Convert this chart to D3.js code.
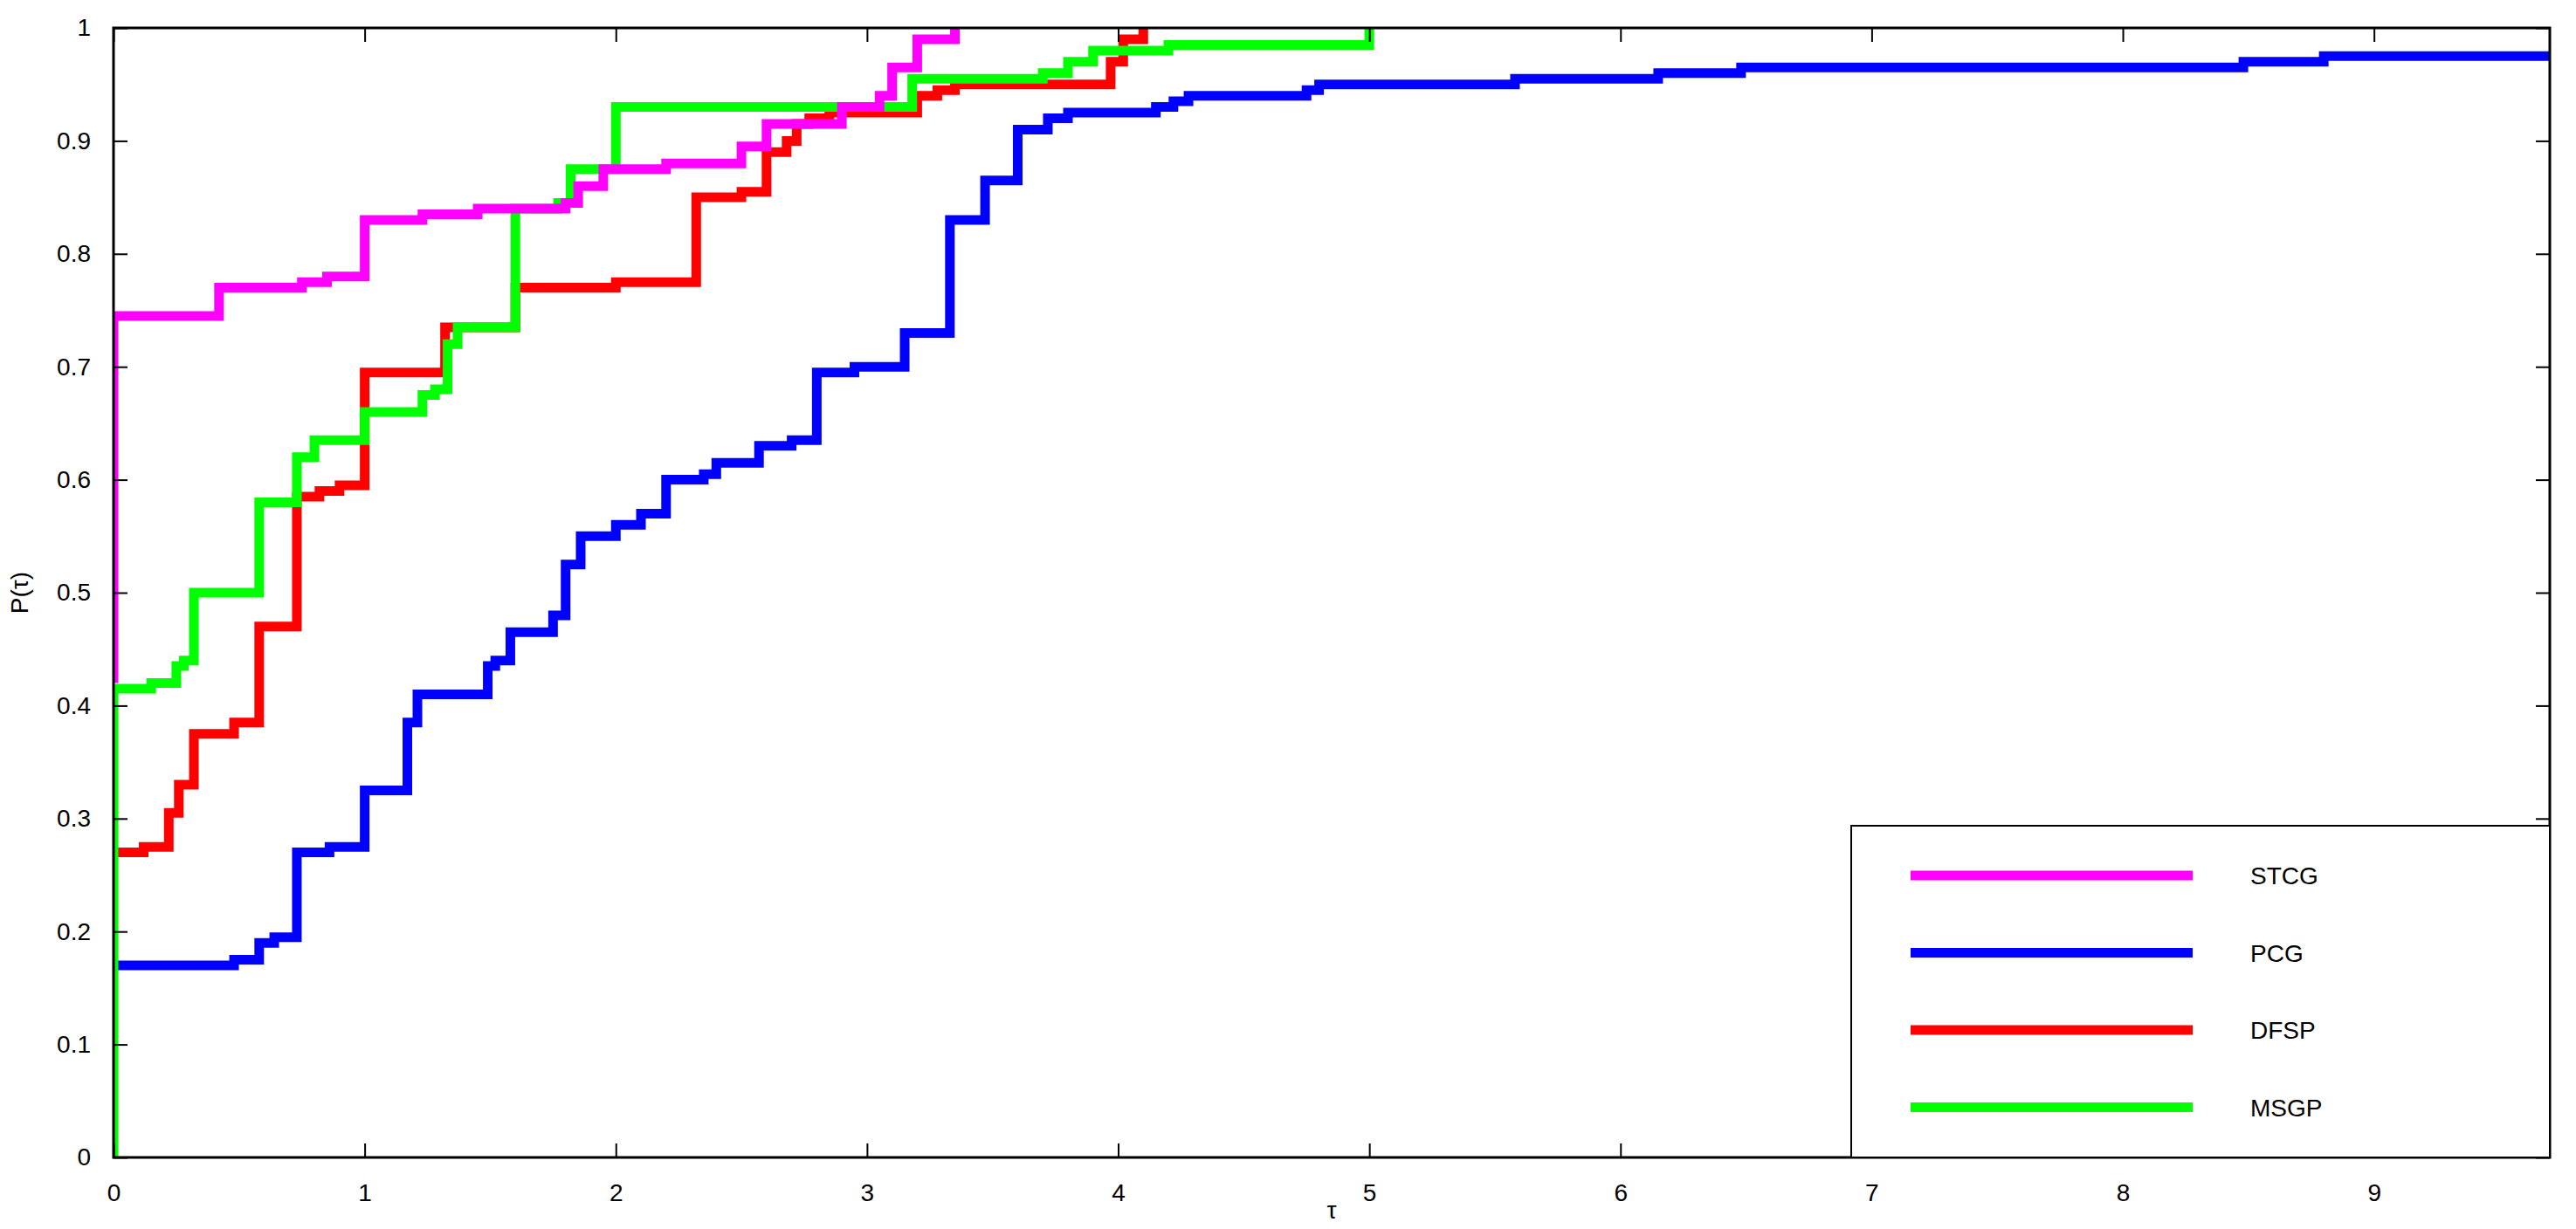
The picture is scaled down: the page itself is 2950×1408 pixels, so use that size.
<!DOCTYPE html>
<html>
<head>
<meta charset="utf-8">
<script src="https://cdn.jsdelivr.net/npm/d3@7"></script>
<style>
  body { margin: 0; background: #fff; }
  text { font-family: "Liberation Sans", Arial, sans-serif; }
</style>
</head>
<body>
<svg width="2950" height="1408"></svg>
<script>
// step data: [tau, P] pairs, drawn as step-after
const stcg = [[0,0.42],[0,0.745],[0.42,0.77],[0.75,0.775],[0.85,0.78],[1.0,0.83],[1.23,0.835],[1.45,0.84],[1.8,0.845],[1.85,0.86],[1.95,0.875],[2.2,0.88],[2.5,0.895],[2.6,0.915],[2.9,0.93],[3.05,0.94],[3.1,0.965],[3.2,0.99],[3.35,1.0]];
const pcg = [[0,0.17],[0.48,0.175],[0.58,0.19],[0.64,0.195],[0.73,0.27],[0.86,0.275],[1.0,0.325],[1.17,0.385],[1.21,0.41],[1.49,0.435],[1.52,0.44],[1.58,0.465],[1.75,0.48],[1.8,0.525],[1.86,0.55],[2.0,0.56],[2.1,0.57],[2.2,0.6],[2.35,0.605],[2.4,0.615],[2.57,0.63],[2.7,0.635],[2.8,0.695],[2.95,0.7],[3.15,0.73],[3.33,0.83],[3.47,0.865],[3.6,0.91],[3.72,0.92],[3.8,0.925],[4.15,0.93],[4.22,0.935],[4.28,0.94],[4.75,0.945],[4.8,0.95],[5.58,0.955],[6.15,0.96],[6.48,0.965],[8.48,0.97],[8.8,0.975],[9.7,0.975]];
const dfsp = [[0,0.27],[0.12,0.275],[0.22,0.305],[0.26,0.33],[0.32,0.375],[0.48,0.385],[0.58,0.47],[0.73,0.585],[0.82,0.59],[0.9,0.595],[1.0,0.695],[1.32,0.735],[1.6,0.77],[2.0,0.775],[2.32,0.85],[2.5,0.855],[2.6,0.89],[2.68,0.9],[2.72,0.915],[2.77,0.92],[2.85,0.925],[3.2,0.94],[3.28,0.945],[3.35,0.95],[3.97,0.97],[4.02,0.99],[4.1,1.0]];
const msgp = [[0,0],[0,0.415],[0.15,0.42],[0.25,0.435],[0.28,0.44],[0.32,0.5],[0.58,0.58],[0.73,0.62],[0.8,0.635],[1.0,0.66],[1.23,0.675],[1.28,0.68],[1.33,0.72],[1.37,0.735],[1.6,0.84],[1.77,0.845],[1.82,0.875],[2.0,0.93],[3.18,0.955],[3.7,0.96],[3.8,0.97],[3.9,0.98],[4.2,0.985],[5.0,1.0]];

const names = ["STCG", "PCG", "DFSP", "MSGP"];
const colors = ["#ff00ff", "#0000ff", "#ff0000", "#00ff00"];
const xTicks = [0,1,2,3,4,5,6,7,8,9];
const yTicks = [0,0.1,0.2,0.3,0.4,0.5,0.6,0.7,0.8,0.9,1];

const svg = d3.select("svg");
const L = 130, R = 2920, T = 32, B = 1326;

const x = d3.scaleLinear().domain([0, 9.7]).range([L, R]);
const y = d3.scaleLinear().domain([0, 1]).range([B, T]);

svg.append("clipPath").attr("id", "c")
  .append("rect").attr("x", L).attr("y", T - 6).attr("width", R - L).attr("height", B - T + 6);

const line = d3.line().x(d => x(d[0])).y(d => y(d[1])).curve(d3.curveStepAfter);

// drawing order, MSGP on top
const order = [1, 2, 3, 0];
order.forEach(i => {
  svg.append("path")
    .datum([stcg, pcg, dfsp, msgp][i])
    .attr("clip-path", "url(#c)")
    .attr("d", line)
    .attr("fill", "none")
    .attr("stroke", colors[i])
    .attr("stroke-width", 11);
});

// axes with inward ticks
const tk = 16;
svg.append("g").attr("transform", `translate(0,${B})`)
  .call(d3.axisBottom(x).tickValues(xTicks).tickSizeInner(-tk).tickSizeOuter(0).tickPadding(tk + 14).tickFormat(d3.format("d")));
svg.append("g").attr("transform", `translate(0,${T})`)
  .call(d3.axisTop(x).tickValues(xTicks).tickSizeInner(-tk).tickSizeOuter(0).tickFormat(""));
svg.append("g").attr("transform", `translate(${L},0)`)
  .call(d3.axisLeft(y).tickValues(yTicks).tickSizeInner(-tk).tickSizeOuter(0).tickPadding(tk + 10).tickFormat(d => d === 0 || d === 1 ? d3.format("d")(d) : d3.format(".1f")(d)));
svg.append("g").attr("transform", `translate(${R},0)`)
  .call(d3.axisRight(y).tickValues(yTicks).tickSizeInner(-tk).tickSizeOuter(0).tickFormat(""));
svg.selectAll(".domain").remove();
svg.selectAll(".tick line").attr("stroke", "#000").attr("stroke-width", 2);
svg.selectAll(".tick text").attr("font-size", 28).attr("fill", "#000")
  .attr("font-family", "Liberation Sans, Arial, sans-serif");

svg.append("rect").attr("x", L).attr("y", T).attr("width", R - L).attr("height", B - T)
  .attr("fill", "none").attr("stroke", "#000").attr("stroke-width", 3);

// axis labels
svg.append("text").attr("x", (L + R) / 2).attr("y", 1396).attr("text-anchor", "middle")
  .attr("font-size", 28).text("τ");
svg.append("text").attr("transform", `translate(32,${(T + B) / 2}) rotate(-90)`)
  .attr("text-anchor", "middle").attr("font-size", 28).text("P(τ)");

// legend
const lg = svg.append("g");
lg.append("rect").attr("x", 2120).attr("y", 946).attr("width", R - 2120).attr("height", B - 946)
  .attr("fill", "#fff").attr("stroke", "#000").attr("stroke-width", 2);
names.forEach((n, i) => {
  const ly = 1003 + i * 88.5;
  lg.append("line").attr("x1", 2188).attr("x2", 2511).attr("y1", ly).attr("y2", ly)
    .attr("stroke", colors[i]).attr("stroke-width", 11);
  lg.append("text").attr("x", 2577).attr("y", ly + 10).attr("font-size", 28).text(n);
});
</script>
</body>
</html>
